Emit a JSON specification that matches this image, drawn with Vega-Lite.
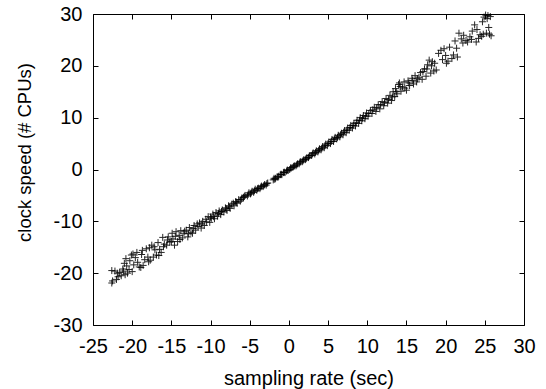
{
  "$schema": "https://vega.github.io/schema/vega-lite/v6.json",
  "autosize": "none",
  "padding": {"left": 93, "top": 14, "right": 22, "bottom": 64},
  "width": 431,
  "height": 311,
  "background": "white",
  "config": {
    "view": {"stroke": null},
    "font": "Liberation Sans",
    "axis": {
      "grid": false,
      "domainColor": "black",
      "domainWidth": 1,
      "tickColor": "black",
      "tickWidth": 1,
      "tickSize": -5,
      "labelColor": "black",
      "labelFontSize": 20,
      "labelFont": "Liberation Sans",
      "labelPadding": 16,
      "labelFlush": false,
      "labelOverlap": false,
      "labelExpr": "datum.value < 0 ? '-' + abs(datum.value) : '' + datum.value",
      "titleColor": "black",
      "titleFont": "Liberation Sans",
      "titleFontSize": 20,
      "titleFontWeight": "normal"
    }
  },
  "data": {"values": [
    {"rate":-22.6,"speed":-21.9},{"rate":-22.5,"speed":-21.5},{"rate":-22.6,"speed":-19.5},{"rate":-22.2,"speed":-19.6},{"rate":-22.0,"speed":-21.2},{"rate":-21.8,"speed":-20.7},{"rate":-21.6,"speed":-19.9},{"rate":-21.4,"speed":-20.5},{"rate":-21.2,"speed":-19.2},{"rate":-21.0,"speed":-18.1},{"rate":-20.9,"speed":-20.3},{"rate":-20.7,"speed":-18.6},{"rate":-20.6,"speed":-20.0},{"rate":-20.4,"speed":-19.3},{"rate":-20.3,"speed":-17.6},{"rate":-20.1,"speed":-16.5},{"rate":-19.9,"speed":-16.3},{"rate":-20.0,"speed":-19.7},{"rate":-19.8,"speed":-18.4},{"rate":-19.6,"speed":-17.0},{"rate":-19.4,"speed":-16.0},{"rate":-19.1,"speed":-18.8},{"rate":-18.9,"speed":-18.9},{"rate":-18.7,"speed":-15.6},{"rate":-18.6,"speed":-18.5},{"rate":-18.4,"speed":-17.4},{"rate":-18.2,"speed":-15.3},{"rate":-18.0,"speed":-16.9},{"rate":-17.8,"speed":-15.1},{"rate":-17.7,"speed":-17.5},{"rate":-17.5,"speed":-14.6},{"rate":-17.3,"speed":-16.9},{"rate":-17.1,"speed":-15.5},{"rate":-16.9,"speed":-16.5},{"rate":-16.7,"speed":-14.1},{"rate":-16.5,"speed":-15.4},{"rate":-16.3,"speed":-16.0},{"rate":-16.1,"speed":-13.1},{"rate":-15.9,"speed":-14.4},{"rate":-15.6,"speed":-14.6},{"rate":-15.4,"speed":-13.0},{"rate":-15.2,"speed":-14.0},
    {"rate":-14.9,"speed":-12.3},{"rate":-14.8,"speed":-13.4},{"rate":-14.6,"speed":-14.6},{"rate":-14.4,"speed":-12.0},{"rate":-14.2,"speed":-13.9},{"rate":-14.0,"speed":-12.7},{"rate":-13.8,"speed":-11.8},{"rate":-13.6,"speed":-13.2},{"rate":-13.4,"speed":-12.3},{"rate":-13.1,"speed":-11.7},{"rate":-12.9,"speed":-13.0},{"rate":-12.7,"speed":-11.2},{"rate":-12.5,"speed":-12.1},{"rate":-12.3,"speed":-12.3},{"rate":-12.1,"speed":-10.8},{"rate":-11.9,"speed":-11.7},{"rate":-11.7,"speed":-10.5},{"rate":-11.4,"speed":-10.3},{"rate":-11.2,"speed":-11.3},{"rate":-11.0,"speed":-10.0},{"rate":-10.8,"speed":-10.8},{"rate":-10.6,"speed":-9.6},{"rate":-10.3,"speed":-9.1},{"rate":-10.1,"speed":-10.2},{"rate":-9.9,"speed":-9.4},{"rate":-9.7,"speed":-8.6},
    {"rate":-9.5,"speed":-9.5},{"rate":-9.3,"speed":-8.3},{"rate":-9.1,"speed":-9.0},{"rate":-8.9,"speed":-8.0},{"rate":-8.7,"speed":-8.7},{"rate":-8.5,"speed":-7.8},{"rate":-8.3,"speed":-8.2},{"rate":-8.1,"speed":-7.4},{"rate":-7.9,"speed":-7.9},{"rate":-7.7,"speed":-7.0},{"rate":-7.5,"speed":-7.5},{"rate":-7.3,"speed":-6.7},{"rate":-7.0,"speed":-7.0},{"rate":-6.8,"speed":-6.2},{"rate":-6.6,"speed":-6.5},{"rate":-6.4,"speed":-5.8},{"rate":-6.2,"speed":-6.1},{"rate":-6.0,"speed":-5.5},{"rate":-5.8,"speed":-5.4},{"rate":-5.6,"speed":-5.0},{"rate":-5.3,"speed":-5.1},{"rate":-5.1,"speed":-4.5},{"rate":-4.9,"speed":-4.7},{"rate":-4.7,"speed":-4.2},{"rate":-4.5,"speed":-4.4},{"rate":-4.3,"speed":-3.8},{"rate":-4.1,"speed":-4.0},{"rate":-3.9,"speed":-3.6},{"rate":-3.7,"speed":-3.7},{"rate":-3.5,"speed":-3.2},{"rate":-3.3,"speed":-3.3},{"rate":-3.1,"speed":-2.9},{"rate":-2.9,"speed":-3.0},{"rate":-2.7,"speed":-2.6},
    {"rate":-2.0,"speed":-2.0},{"rate":-1.9,"speed":-1.7},{"rate":-1.7,"speed":-1.7},{"rate":-1.5,"speed":-1.4},{"rate":-1.3,"speed":-1.3},{"rate":-1.1,"speed":-1.0},{"rate":-0.9,"speed":-1.0},{"rate":-0.7,"speed":-0.6},{"rate":-0.5,"speed":-0.6},{"rate":-0.3,"speed":-0.3},{"rate":-0.1,"speed":-0.2},{"rate":0.1,"speed":0.0},{"rate":0.3,"speed":0.3},{"rate":0.5,"speed":0.4},{"rate":0.7,"speed":0.7},{"rate":0.9,"speed":0.7},{"rate":1.1,"speed":1.1},{"rate":1.3,"speed":1.1},{"rate":1.5,"speed":1.5},{"rate":1.7,"speed":1.5},{"rate":1.9,"speed":1.9},{"rate":2.1,"speed":1.9},{"rate":2.3,"speed":2.3},{"rate":2.5,"speed":2.3},{"rate":2.7,"speed":2.7},{"rate":2.9,"speed":2.7},{"rate":3.1,"speed":3.2},{"rate":3.3,"speed":3.0},{"rate":3.5,"speed":3.6},{"rate":3.7,"speed":3.4},{"rate":3.9,"speed":4.0},{"rate":4.1,"speed":3.8},{"rate":4.3,"speed":4.4},{"rate":4.5,"speed":4.2},{"rate":4.7,"speed":4.9},{"rate":4.9,"speed":4.6},{"rate":5.1,"speed":5.3},{"rate":5.3,"speed":5.0},{"rate":5.5,"speed":5.8},{"rate":5.7,"speed":5.4},{"rate":5.9,"speed":6.2},{"rate":6.1,"speed":5.9},{"rate":6.3,"speed":6.6},{"rate":6.5,"speed":6.3},{"rate":6.7,"speed":7.0},{"rate":6.9,"speed":6.7},{"rate":7.1,"speed":7.5},{"rate":7.3,"speed":7.1},{"rate":7.5,"speed":8.0},{"rate":7.7,"speed":7.6},{"rate":7.9,"speed":8.5},{"rate":8.1,"speed":8.0},{"rate":8.3,"speed":8.9},{"rate":8.5,"speed":8.4},{"rate":8.7,"speed":9.5},{"rate":8.9,"speed":8.9},{"rate":9.1,"speed":10.0},{"rate":9.3,"speed":9.4},{"rate":9.5,"speed":10.4},{"rate":9.7,"speed":9.8},{"rate":9.9,"speed":10.9},{"rate":10.1,"speed":10.3},{"rate":10.4,"speed":11.4},{"rate":10.6,"speed":10.8},{"rate":10.9,"speed":12.0},{"rate":11.1,"speed":11.2},{"rate":11.4,"speed":12.5},{"rate":11.6,"speed":11.7},{"rate":11.9,"speed":13.1},{"rate":12.1,"speed":12.3},{"rate":12.4,"speed":13.7},{"rate":12.6,"speed":12.8},{"rate":12.9,"speed":14.3},{"rate":13.1,"speed":13.3},
    {"rate":13.3,"speed":15.0},{"rate":13.5,"speed":14.1},{"rate":13.6,"speed":15.6},{"rate":13.8,"speed":14.6},{"rate":14.0,"speed":16.4},{"rate":14.1,"speed":16.7},{"rate":14.3,"speed":15.1},{"rate":14.5,"speed":15.9},{"rate":14.7,"speed":16.9},{"rate":15.0,"speed":15.3},{"rate":15.2,"speed":17.1},{"rate":15.4,"speed":16.2},{"rate":15.7,"speed":17.6},{"rate":15.9,"speed":16.5},{"rate":16.1,"speed":18.1},{"rate":16.3,"speed":16.9},{"rate":16.6,"speed":17.8},{"rate":16.8,"speed":18.7},{"rate":17.0,"speed":17.4},{"rate":17.3,"speed":19.4},{"rate":17.5,"speed":18.0},{"rate":17.7,"speed":20.2},{"rate":17.9,"speed":21.1},{"rate":18.1,"speed":18.6},{"rate":18.3,"speed":20.8},{"rate":18.5,"speed":19.0},{"rate":18.8,"speed":19.2},
    {"rate":19.1,"speed":22.4},{"rate":19.4,"speed":23.0},{"rate":19.8,"speed":23.3},{"rate":20.1,"speed":20.5},{"rate":20.3,"speed":20.9},{"rate":20.5,"speed":23.6},{"rate":21.0,"speed":22.1},{"rate":21.5,"speed":21.7},{"rate":21.2,"speed":24.8},{"rate":21.7,"speed":26.3},{"rate":22.0,"speed":25.2},{"rate":22.3,"speed":25.9},{"rate":22.6,"speed":24.9},{"rate":22.8,"speed":24.6},{"rate":23.1,"speed":25.6},{"rate":23.4,"speed":26.7},{"rate":23.7,"speed":27.9},{"rate":23.9,"speed":24.6},{"rate":24.2,"speed":25.3},{"rate":24.4,"speed":26.0},{"rate":24.7,"speed":28.5},{"rate":24.9,"speed":29.4},{"rate":25.1,"speed":29.8},{"rate":25.3,"speed":29.1},{"rate":25.5,"speed":27.4},{"rate":25.6,"speed":26.1},{"rate":25.8,"speed":25.8},{"rate":25.2,"speed":26.3},{"rate":25.7,"speed":29.5},{"rate":24.6,"speed":25.7},
    {"rate":-21.9,"speed":-20.0},{"rate":-21.1,"speed":-19.6},{"rate":-20.8,"speed":-17.2},{"rate":-19.3,"speed":-17.9},{"rate":-18.8,"speed":-16.4},{"rate":-17.9,"speed":-17.8},{"rate":-17.2,"speed":-14.9},{"rate":-16.6,"speed":-16.6},{"rate":-16.0,"speed":-14.9},{"rate":-15.5,"speed":-13.6},{"rate":-15.0,"speed":-13.9},{"rate":-14.5,"speed":-12.9},{"rate":-13.9,"speed":-13.5},{"rate":-13.3,"speed":-11.9},{"rate":-12.8,"speed":-12.4},{"rate":-12.2,"speed":-11.4},{"rate":-11.6,"speed":-11.0},{"rate":-11.1,"speed":-10.5},{"rate":-10.5,"speed":-10.1},{"rate":-10.0,"speed":-9.2},{"rate":-9.6,"speed":-9.1},{"rate":-9.0,"speed":-8.5},{"rate":-8.6,"speed":-8.1},{"rate":-8.0,"speed":-7.6},{"rate":-7.6,"speed":-7.2},{"rate":-7.1,"speed":-6.5},{"rate":-6.7,"speed":-6.3},{"rate":-6.1,"speed":-5.8},{"rate":-5.7,"speed":-5.2},{"rate":-5.2,"speed":-4.8},{"rate":-4.8,"speed":-4.5},{"rate":-4.4,"speed":-4.1},{"rate":-4.0,"speed":-3.7},{"rate":-3.6,"speed":-3.4},{"rate":-3.2,"speed":-3.1},{"rate":-2.8,"speed":-2.7},{"rate":-1.8,"speed":-1.9},{"rate":-1.4,"speed":-1.5},{"rate":-1.0,"speed":-0.9},{"rate":-0.6,"speed":-0.5},{"rate":-0.2,"speed":-0.1},{"rate":0.2,"speed":0.3},{"rate":0.6,"speed":0.6},{"rate":1.0,"speed":0.9},{"rate":1.4,"speed":1.4},{"rate":1.8,"speed":1.7},{"rate":2.2,"speed":2.1},{"rate":2.6,"speed":2.6},{"rate":3.0,"speed":3.0},{"rate":3.4,"speed":3.3},{"rate":3.8,"speed":3.7},{"rate":4.2,"speed":4.1},{"rate":4.6,"speed":4.6},{"rate":5.0,"speed":5.0},{"rate":5.4,"speed":5.4},{"rate":5.8,"speed":5.9},{"rate":6.2,"speed":6.2},{"rate":6.6,"speed":6.7},{"rate":7.0,"speed":7.2},{"rate":7.4,"speed":7.6},{"rate":7.8,"speed":8.1},{"rate":8.2,"speed":8.5},{"rate":8.6,"speed":9.0},{"rate":9.0,"speed":9.5},{"rate":9.4,"speed":9.9},{"rate":9.8,"speed":10.3},{"rate":10.2,"speed":10.8},{"rate":10.7,"speed":11.5},{"rate":11.2,"speed":11.9},{"rate":11.7,"speed":12.5},{"rate":12.2,"speed":12.9},{"rate":12.7,"speed":13.5},{"rate":13.2,"speed":14.0},{"rate":13.7,"speed":15.0},{"rate":14.2,"speed":16.0},{"rate":14.8,"speed":15.7},{"rate":15.3,"speed":16.7},{"rate":15.8,"speed":17.2},{"rate":16.4,"speed":17.5},{"rate":17.1,"speed":18.9},{"rate":17.6,"speed":19.4},{"rate":18.2,"speed":20.0},{"rate":18.6,"speed":20.5},{"rate":19.6,"speed":21.2},{"rate":20.0,"speed":22.0},{"rate":20.8,"speed":21.4},{"rate":21.4,"speed":23.4},{"rate":22.2,"speed":24.4},{"rate":23.3,"speed":25.1},{"rate":24.0,"speed":27.0},{"rate":24.8,"speed":26.1},{"rate":25.4,"speed":29.7}
  ]},
  "layer": [
    {
      "mark": {"type": "point", "shape": "M-1,0L1,0M0,-1L0,1", "filled": false, "stroke": "black", "strokeWidth": 1, "size": 49, "opacity": 0.85},
      "encoding": {
        "x": {"field": "rate", "type": "quantitative", "scale": {"domain": [-25, 30], "nice": false, "zero": false},
              "axis": {"orient": "bottom", "values": [-25,-20,-15,-10,-5,0,5,10,15,20,25,30], "title": "sampling rate (sec)", "titlePadding": 12}},
        "y": {"field": "speed", "type": "quantitative", "scale": {"domain": [-30, 30], "nice": false, "zero": false},
              "axis": {"orient": "left", "values": [-30,-20,-10,0,10,20,30], "title": "clock speed (# CPUs)", "titleFontSize": 18.5, "titleX": -59, "titleY": 138}}
      }
    },
    {
      "mark": {"type": "point", "opacity": 0},
      "encoding": {
        "x": {"field": "rate", "type": "quantitative", "scale": {"domain": [-25, 30], "nice": false, "zero": false},
              "axis": {"orient": "top", "values": [-25,-20,-15,-10,-5,0,5,10,15,20,25,30], "labels": false, "title": null}},
        "y": {"field": "speed", "type": "quantitative", "scale": {"domain": [-30, 30], "nice": false, "zero": false},
              "axis": {"orient": "right", "values": [-30,-20,-10,0,10,20,30], "labels": false, "title": null}}
      }
    }
  ],
  "resolve": {"axis": {"x": "independent", "y": "independent"}}
}
